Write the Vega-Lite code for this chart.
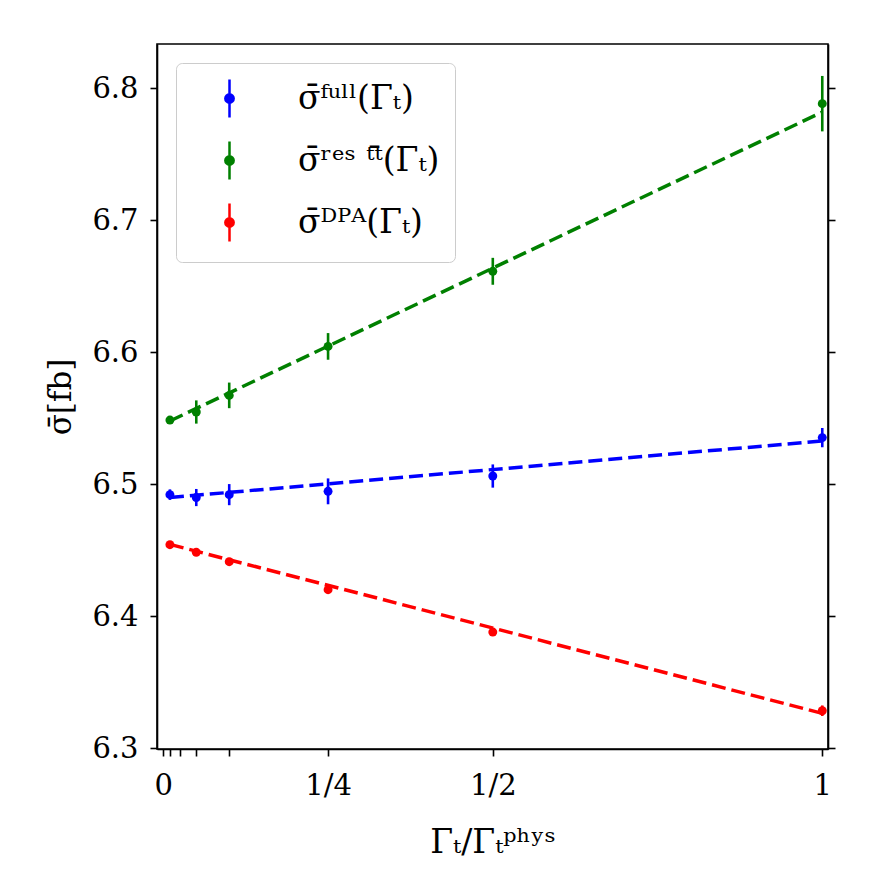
{
  "$schema": "https://vega.github.io/schema/vega-lite/v6.json",
  "autosize": "none",
  "width": 671,
  "height": 705,
  "padding": {"left": 157, "top": 44, "right": 44, "bottom": 123},
  "background": "white",
  "config": {
    "font": "DejaVu Serif",
    "view": {"stroke": "black", "strokeWidth": 1.6},
    "axis": {
      "grid": false,
      "domainColor": "black",
      "domainWidth": 1.6,
      "tickColor": "black",
      "tickWidth": 1.6,
      "tickSize": 7,
      "labelFont": "DejaVu Serif",
      "labelFontSize": 29,
      "labelColor": "black",
      "titleFont": "DejaVu Serif",
      "titleFontSize": 31,
      "titleFontWeight": "normal",
      "titleColor": "black"
    }
  },
  "datasets": {
    "points": [
      {"series": "full", "x": 0.01, "y": 6.4922, "err": 0.004},
      {"series": "full", "x": 0.05, "y": 6.4900, "err": 0.0065},
      {"series": "full", "x": 0.1, "y": 6.4922, "err": 0.008},
      {"series": "full", "x": 0.25, "y": 6.4947, "err": 0.0098},
      {"series": "full", "x": 0.5, "y": 6.5063, "err": 0.0088},
      {"series": "full", "x": 1.0, "y": 6.5354, "err": 0.0073},
      {"series": "res", "x": 0.01, "y": 6.5487, "err": 0.003},
      {"series": "res", "x": 0.05, "y": 6.5548, "err": 0.0088},
      {"series": "res", "x": 0.1, "y": 6.5674, "err": 0.0097},
      {"series": "res", "x": 0.25, "y": 6.6045, "err": 0.0101},
      {"series": "res", "x": 0.5, "y": 6.6614, "err": 0.0102},
      {"series": "res", "x": 1.0, "y": 6.7884, "err": 0.021},
      {"series": "DPA", "x": 0.01, "y": 6.4543, "err": 0.002},
      {"series": "DPA", "x": 0.05, "y": 6.4485, "err": 0.002},
      {"series": "DPA", "x": 0.1, "y": 6.4414, "err": 0.002},
      {"series": "DPA", "x": 0.25, "y": 6.4202, "err": 0.002},
      {"series": "DPA", "x": 0.5, "y": 6.3881, "err": 0.003},
      {"series": "DPA", "x": 1.0, "y": 6.3285, "err": 0.004}
    ],
    "fits": [
      {"series": "full", "x": 0.01, "y": 6.4900},
      {"series": "full", "x": 1.0, "y": 6.5329},
      {"series": "res", "x": 0.01, "y": 6.5480},
      {"series": "res", "x": 1.0, "y": 6.7820},
      {"series": "DPA", "x": 0.01, "y": 6.4545},
      {"series": "DPA", "x": 1.0, "y": 6.3265}
    ]
  },
  "layer": [
    {
      "data": {"name": "fits"},
      "mark": {"type": "line", "strokeDash": [14, 6], "strokeWidth": 3.5, "clip": true},
      "encoding": {
        "x": {"field": "x", "type": "quantitative", "scale": {"domain": [-0.0096, 1.0087], "nice": false, "zero": false}},
        "y": {"field": "y", "type": "quantitative", "axis": null, "scale": {"domain": [6.2995, 6.8336], "nice": false, "zero": false}},
        "color": {"field": "series", "type": "nominal",
          "scale": {"domain": ["full", "res", "DPA"], "range": ["#0000ff", "#008000", "#ff0000"]},
          "legend": {
            "title": null,
            "orient": "top-left",
            "offset": 19,
            "padding": 15,
            "rowPadding": 13,
            "symbolOffset": 18,
            "labelOffset": 48,
            "symbolSize": 1444,
            "symbolType": "M0,-1L0,1M-0.22,0A0.22,0.22 0 1,0 0.22,0A0.22,0.22 0 1,0 -0.22,0Z",
            "symbolStrokeWidth": 2.5,
            "symbolDash": [],
            "labelFont": "DejaVu Serif",
            "labelFontSize": 33,
            "labelColor": "black",
            "strokeColor": "#cccccc",
            "fillColor": "white",
            "cornerRadius": 6,
            "labelExpr": "datum.label == 'full' ? 'σ̄ᶠᵘˡˡ(Γₜ)' : datum.label == 'res' ? 'σ̄ʳᵉˢ ᵗᵗ̄(Γₜ)' : 'σ̄ᴰᴾᴬ(Γₜ)'",
            "encode": {"symbols": {"update": {"stroke": {"scale": "color", "field": "value"}, "fill": {"scale": "color", "field": "value"}, "strokeDash": {"value": []}}}}
          }},
        "detail": {"field": "series"}
      }
    },
    {
      "data": {"name": "points"},
      "mark": {"type": "errorbar", "ticks": false, "thickness": 2.6},
      "encoding": {
        "x": {"field": "x", "type": "quantitative",
          "axis": {
            "orient": "bottom",
            "title": "Γₜ/Γₜᵖʰʸˢ",
            "values": [0, 0.01, 0.025, 0.05, 0.1, 0.25, 0.5, 1],
            "labelExpr": "datum.value == 0 ? '0' : datum.value == 0.25 ? '1/4' : datum.value == 0.5 ? '1/2' : datum.value == 1 ? '1' : ''",
            "labelOverlap": false,
            "labelBound": false,
            "labelFlush": false,
            "labelPadding": 15,
            "titlePadding": 26,
            "titleFontSize": 33
          }},
        "y": {"field": "y", "type": "quantitative",
          "axis": {
            "orient": "left",
            "title": "σ̄[fb]",
            "values": [6.3, 6.4, 6.5, 6.6, 6.7, 6.8],
            "format": ".1f",
            "labelPadding": 12,
            "titlePadding": 14
          }},
        "yError": {"field": "err"},
        "color": {"field": "series", "type": "nominal"}
      }
    },
    {
      "data": {"name": "points"},
      "mark": {"type": "point", "filled": true, "size": 80, "opacity": 1},
      "encoding": {
        "x": {"field": "x", "type": "quantitative"},
        "y": {"field": "y", "type": "quantitative",
          "axis": {
            "orient": "right",
            "title": null,
            "labels": false,
            "values": [6.3, 6.4, 6.5, 6.6, 6.7, 6.8]
          }},
        "color": {"field": "series", "type": "nominal"}
      }
    }
  ],
  "resolve": {"axis": {"y": "independent"}}
}
